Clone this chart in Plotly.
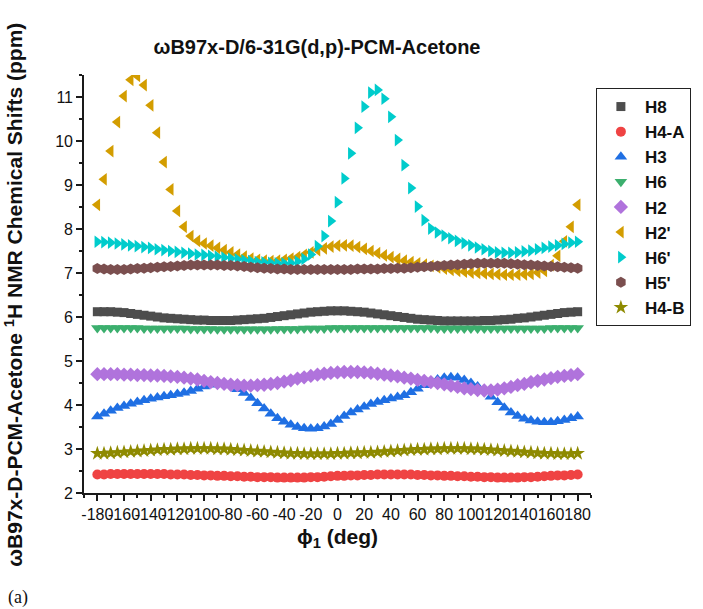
import plotly.graph_objects as go

# Dihedral scan angle phi1 (deg), 5-degree steps
phi = list(range(-180, 181, 5))

# Computed 1H chemical shifts (ppm) per proton
h8 = [6.12, 6.12, 6.12, 6.11, 6.10, 6.08, 6.06, 6.04, 6.02, 6.00, 5.98, 5.97,
      5.96, 5.95, 5.94, 5.93, 5.93, 5.92, 5.92, 5.92, 5.92, 5.93, 5.94, 5.95,
      5.96, 5.97, 5.99, 6.01, 6.03, 6.05, 6.07, 6.09, 6.11, 6.12, 6.13, 6.14,
      6.14, 6.14, 6.13, 6.12, 6.11, 6.09, 6.07, 6.05, 6.03, 6.01, 5.99, 5.97,
      5.95, 5.94, 5.93, 5.92, 5.91, 5.91, 5.91, 5.91, 5.91, 5.91, 5.92, 5.92,
      5.93, 5.94, 5.95, 5.97, 5.98, 6.00, 6.02, 6.04, 6.06, 6.08, 6.10, 6.11,
      6.12]
h4a = [2.42, 2.42, 2.43, 2.43, 2.43, 2.43, 2.43, 2.43, 2.43, 2.43, 2.43, 2.42,
       2.42, 2.42, 2.41, 2.41, 2.40, 2.40, 2.39, 2.39, 2.38, 2.38, 2.37, 2.37,
       2.36, 2.36, 2.36, 2.35, 2.35, 2.35, 2.35, 2.35, 2.36, 2.36, 2.37, 2.38,
       2.39, 2.39, 2.40, 2.40, 2.41, 2.41, 2.42, 2.42, 2.42, 2.42, 2.42, 2.42,
       2.41, 2.41, 2.40, 2.40, 2.39, 2.39, 2.38, 2.38, 2.37, 2.37, 2.36, 2.36,
       2.35, 2.35, 2.35, 2.35, 2.36, 2.36, 2.37, 2.38, 2.39, 2.40, 2.40, 2.41,
       2.42]
h3 = [3.74, 3.80, 3.87, 3.93, 3.98, 4.03, 4.07, 4.11, 4.14, 4.17, 4.20, 4.22,
      4.25, 4.28, 4.32, 4.37, 4.42, 4.46, 4.48, 4.48, 4.45, 4.36, 4.27, 4.16,
      4.04, 3.92, 3.80, 3.70, 3.62, 3.55, 3.50, 3.47, 3.46, 3.47, 3.51, 3.57,
      3.66, 3.75, 3.83, 3.90, 3.96, 4.02, 4.07, 4.11, 4.15, 4.18, 4.22, 4.29,
      4.37, 4.45, 4.52, 4.58, 4.62, 4.63, 4.62, 4.57, 4.50, 4.42, 4.31, 4.19,
      4.06, 3.94, 3.83, 3.75, 3.69, 3.65, 3.62, 3.61, 3.61, 3.63, 3.66, 3.70,
      3.74]
h6 = [5.75, 5.75, 5.75, 5.75, 5.75, 5.75, 5.75, 5.74, 5.74, 5.74, 5.74, 5.74,
      5.74, 5.74, 5.73, 5.73, 5.73, 5.73, 5.72, 5.72, 5.72, 5.72, 5.72, 5.72,
      5.72, 5.72, 5.72, 5.73, 5.73, 5.73, 5.73, 5.74, 5.74, 5.74, 5.74, 5.75,
      5.75, 5.75, 5.75, 5.75, 5.75, 5.75, 5.75, 5.75, 5.75, 5.75, 5.75, 5.75,
      5.75, 5.75, 5.75, 5.74, 5.74, 5.74, 5.74, 5.74, 5.74, 5.74, 5.74, 5.74,
      5.74, 5.74, 5.74, 5.74, 5.74, 5.74, 5.74, 5.74, 5.75, 5.75, 5.75, 5.75,
      5.75]
h2 = [4.70, 4.70, 4.70, 4.70, 4.69, 4.69, 4.68, 4.68, 4.67, 4.67, 4.66, 4.65,
      4.64, 4.62, 4.60, 4.58, 4.55, 4.52, 4.50, 4.48, 4.46, 4.45, 4.44, 4.44,
      4.45, 4.46, 4.48, 4.50, 4.53, 4.56, 4.60, 4.63, 4.66, 4.69, 4.71, 4.73,
      4.74, 4.75, 4.75, 4.75, 4.74, 4.73, 4.71, 4.69, 4.67, 4.65, 4.62, 4.60,
      4.57, 4.55, 4.52, 4.50, 4.47, 4.44, 4.41, 4.38, 4.36, 4.34, 4.33, 4.33,
      4.35, 4.38, 4.41, 4.45, 4.48, 4.52, 4.55, 4.58, 4.61, 4.64, 4.66, 4.68,
      4.70]
h2p = [8.55, 9.13, 9.77, 10.43, 11.02, 11.39, 11.48, 11.27, 10.81, 10.19, 9.52, 8.90,
       8.41, 8.05, 7.84, 7.73, 7.67, 7.62, 7.57, 7.52, 7.47, 7.42, 7.37, 7.33,
       7.30, 7.28, 7.27, 7.28, 7.30, 7.33, 7.36, 7.41, 7.47, 7.52, 7.56, 7.60,
       7.62, 7.63, 7.62, 7.59, 7.55, 7.50, 7.45, 7.40, 7.36, 7.32, 7.28, 7.25,
       7.22, 7.19, 7.16, 7.13, 7.10, 7.07, 7.05, 7.03, 7.01, 7.00, 6.99, 6.98,
       6.97, 6.96, 6.96, 6.96, 6.97, 6.98, 7.01, 7.05, 7.18, 7.39, 7.72, 8.05,
       8.55]
h6p = [7.71, 7.70, 7.69, 7.67, 7.65, 7.63, 7.61, 7.59, 7.57, 7.54, 7.52, 7.50,
       7.48, 7.46, 7.44, 7.42, 7.41, 7.39, 7.37, 7.35, 7.33, 7.31, 7.29, 7.27,
       7.25, 7.24, 7.23, 7.22, 7.22, 7.23, 7.26, 7.32, 7.42, 7.61, 7.84, 8.18,
       8.61, 9.15, 9.72, 10.30, 10.78, 11.10, 11.16, 10.96, 10.55, 10.02, 9.45, 8.93,
       8.51, 8.20, 8.01, 7.92, 7.85, 7.79, 7.73, 7.68, 7.63, 7.58, 7.54, 7.50,
       7.47, 7.46, 7.46, 7.47, 7.49, 7.51, 7.54, 7.57, 7.60, 7.63, 7.66, 7.69,
       7.71]
h5p = [7.10, 7.09, 7.08, 7.08, 7.08, 7.09, 7.10, 7.11, 7.12, 7.13, 7.14, 7.15,
       7.16, 7.17, 7.18, 7.18, 7.18, 7.18, 7.18, 7.17, 7.17, 7.16, 7.15, 7.13,
       7.12, 7.11, 7.10, 7.09, 7.09, 7.08, 7.08, 7.08, 7.08, 7.08, 7.08, 7.08,
       7.08, 7.08, 7.08, 7.09, 7.09, 7.09, 7.09, 7.10, 7.10, 7.11, 7.11, 7.12,
       7.13, 7.14, 7.15, 7.16, 7.17, 7.18, 7.19, 7.20, 7.21, 7.22, 7.22, 7.22,
       7.22, 7.22, 7.21, 7.20, 7.19, 7.18, 7.17, 7.16, 7.15, 7.14, 7.13, 7.12,
       7.11]
h4b = [2.90, 2.90, 2.91, 2.92, 2.93, 2.94, 2.95, 2.96, 2.97, 2.98, 2.99, 2.99,
       3.00, 3.00, 3.01, 3.01, 3.01, 3.01, 3.00, 3.00, 2.99, 2.98, 2.97, 2.96,
       2.95, 2.94, 2.93, 2.92, 2.91, 2.90, 2.90, 2.89, 2.89, 2.89, 2.89, 2.89,
       2.90, 2.90, 2.91, 2.91, 2.92, 2.92, 2.93, 2.94, 2.95, 2.96, 2.97, 2.98,
       2.99, 2.99, 3.00, 3.00, 3.01, 3.01, 3.01, 3.01, 3.00, 3.00, 2.99, 2.98,
       2.97, 2.96, 2.95, 2.94, 2.93, 2.92, 2.91, 2.90, 2.90, 2.89, 2.89, 2.89,
       2.90]

# Axis tick values and labels
x_tickvals = list(range(-180, 181, 20))
x_ticktext = [str(v) for v in x_tickvals]
y_tickvals = list(range(2, 12))

series = [
    ("H8", h8, "square", "#4d4d4d", 9),
    ("H4-A", h4a, "circle", "#ef4343", 10),
    ("H3", h3, "triangle-up", "#1f6fe3", 11),
    ("H6", h6, "triangle-down", "#3caf6e", 11),
    ("H2", h2, "diamond", "#b073dc", 11),
    ("H2'", h2p, "triangle-left", "#d39d00", 11),
    ("H6'", h6p, "triangle-right", "#00cccc", 11),
    ("H5'", h5p, "hexagon", "#7b4f4f", 11),
    ("H4-B", h4b, "star", "#8e8a00", 11),
]

FONT = "Liberation Sans, Arial, sans-serif"

fig = go.Figure()
for name, ys, sym, col, sz in series:
    fig.add_trace(go.Scatter(
        x=phi, y=ys, mode="markers", name=name,
        marker=dict(symbol=sym, color=col, size=sz, line=dict(width=0)),
    ))

axis_common = dict(
    showgrid=False, zeroline=False, showline=True, linecolor="#1a1a1a", linewidth=1.6,
    ticks="outside", ticklen=6, tickwidth=1.5, tickcolor="#1a1a1a",
    tickfont=dict(family=FONT, size=16, color="#111"),
)

fig.update_layout(
    width=703, height=609,
    margin=dict(l=84, r=100, t=75, b=116),
    paper_bgcolor="white", plot_bgcolor="white",
    title=dict(
        text="<b>ωB97x-D/6-31G(d,p)-PCM-Acetone</b>",
        font=dict(family=FONT, size=20, color="#111"),
        x=317 / 703, xanchor="center", xref="container",
        y=1 - 47 / 609, yanchor="middle", yref="container",
    ),
    xaxis=dict(
        range=[-190, 190], tickmode="array", tickvals=x_tickvals, ticktext=x_ticktext,
        tickangle=0,
        minor=dict(ticks="outside", ticklen=3, tickwidth=1.5, tickcolor="#1a1a1a",
                   tickmode="linear", tick0=-190, dtick=10),
        **axis_common,
    ),
    yaxis=dict(
        range=[2, 11.5], tickmode="array", tickvals=y_tickvals,
        minor=dict(ticks="outside", ticklen=3, tickwidth=1.5, tickcolor="#1a1a1a",
                   tickmode="linear", tick0=1.5, dtick=1),
        **axis_common,
    ),
    legend=dict(
        x=(608 - 84) / 519, xanchor="left", y=(493 - 88) / 418, yanchor="top",
        bgcolor="white", bordercolor="#222", borderwidth=1,
        font=dict(family=FONT, size=17, color="#111", weight="bold"),
        itemwidth=38,
    ),
    showlegend=True,
)

fig.add_annotation(
    text="<b>ϕ<sub>1</sub> (deg)</b>", xref="paper", yref="paper",
    x=0.5, y=(493 - 538) / 418, xanchor="center", yanchor="middle",
    showarrow=False, font=dict(family=FONT, size=21, color="#111"),
)
fig.add_annotation(
    text="<b>ωB97x-D-PCM-Acetone <sup>1</sup>H NMR Chemical Shifts (ppm)</b>",
    xref="paper", yref="paper", textangle=-90,
    x=(12 - 84) / 519, y=(493 - 295) / 418, xanchor="center", yanchor="middle",
    showarrow=False, font=dict(family=FONT, size=21, color="#111"),
)
fig.add_annotation(
    text="(a)", xref="paper", yref="paper",
    x=(4 - 84) / 519, y=(493 - 597) / 418, xanchor="left", yanchor="middle",
    showarrow=False, font=dict(family="Liberation Serif, Times New Roman, serif", size=18, color="#111"),
)

fig.write_html("out.html")
